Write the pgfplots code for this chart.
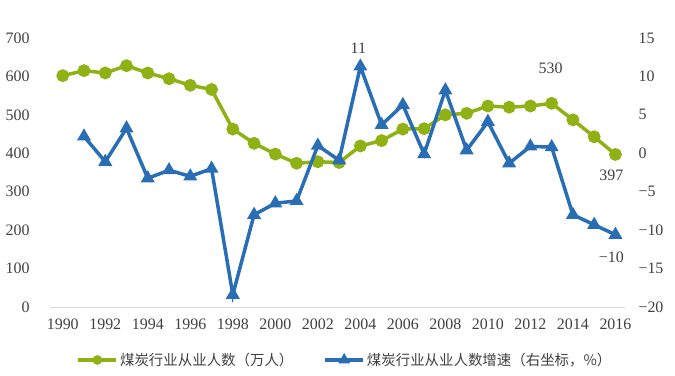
\documentclass[border=0pt]{standalone}
\usepackage{pgfplots}
\pgfplotsset{compat=1.18}
\usepackage{fontspec}
\setmainfont{Liberation Serif}
\newfontfamily\cjk{Noto Sans CJK SC}
\definecolor{cgreen}{RGB}{143,177,20}
\definecolor{cblue}{RGB}{41,110,180}
\definecolor{ctext}{RGB}{64,64,64}
\begin{document}
\begin{tikzpicture}
\path[use as bounding box] (-50bp,-69bp) rectangle (625bp,307bp);
\begin{axis}[
  scale only axis, width=575bp, height=269bp,
  xmin=1989.4, xmax=2016.45, ymin=0, ymax=700,
  axis y line*=left, axis x line*=bottom,
  y axis line style={draw=none},
  x axis line style={draw=black!15, line width=1pt},
  xtick={1990,1992,...,2016}, ytick={0,100,...,700},
  major tick length=0pt,
  tick label style={font=\fontsize{16}{16}\selectfont, text=ctext},
  /pgf/number format/assume math mode=true,
  /pgf/number format/1000 sep={},
  yticklabel style={xshift=-17bp},
  xticklabel style={yshift=-8bp},
  clip=false,
]
\addplot[cgreen, line width=3.5bp, mark=*, mark size=4.6bp] coordinates {
(1990,602) (1991,615) (1992,609) (1993,628) (1994,609) (1995,594) (1996,577)
(1997,566) (1998,463) (1999,426) (2000,398) (2001,374) (2002,378) (2003,376)
(2004,419) (2005,433) (2006,463) (2007,464) (2008,500) (2009,504) (2010,523)
(2011,520) (2012,523) (2013,530) (2014,487) (2015,443) (2016,397)};
\node[font=\fontsize{16}{16}\selectfont, text=ctext] at (axis cs:2013,530) [yshift=35bp, xshift=-1bp] {530};
\node[font=\fontsize{16}{16}\selectfont, text=ctext] at (axis cs:2016,397) [yshift=-21bp, xshift=-4bp] {397};
\end{axis}
\begin{axis}[
  scale only axis, width=575bp, height=269bp,
  xmin=1989.4, xmax=2016.45, ymin=-20, ymax=15,
  axis y line*=right, axis x line=none,
  y axis line style={draw=none},
  ytick={-20,-15,...,15},
  yticklabels={−20,−15,−10,−5,0,5,10,15},
  major tick length=0pt,
  tick label style={font=\fontsize{16}{16}\selectfont, text=ctext},
  yticklabel style={xshift=10bp},
  clip=false,
  legend style={at={(0.513,-0.197)}, anchor=center, draw=none, fill=none,
    legend columns=2, font=\cjk\fontsize{14.5}{15}\selectfont, text=ctext,
    /tikz/every even column/.append style={column sep=28bp},
    legend cell align=left},
  legend image code/.code={\draw[mark repeat=2,mark phase=2] plot coordinates {(0bp,0bp) (19bp,0bp) (38bp,0bp)};},
]
\addlegendimage{cgreen, line width=3.5bp, mark=*, mark size=3bp}
\addlegendentry{煤炭行业从业人数（万人）}
\addlegendimage{cblue, line width=3.5bp, mark=triangle*, mark size=3.5bp}
\addlegendentry{煤炭行业从业人数增速（右坐标，\%）}
\addplot[cblue, line width=3.5bp, mark=triangle*, mark size=4.6bp, forget plot] coordinates {
(1991,2.2) (1992,-1.1) (1993,3.25) (1994,-3.25) (1995,-2.2) (1996,-3.0) (1997,-2.0)
(1998,-18.4) (1999,-8.0) (2000,-6.5) (2001,-6.2) (2002,1.0) (2003,-0.9)
(2004,11.3) (2005,3.7) (2006,6.3) (2007,-0.1) (2008,8.2) (2009,0.4) (2010,4.1)
(2011,-1.3) (2012,0.9) (2013,0.8) (2014,-8.0) (2015,-9.3) (2016,-10.6)};
\node[font=\fontsize{16}{16}\selectfont, text=ctext] at (axis cs:2004,11.3) [yshift=18bp, xshift=-2bp] {11};
\node[font=\fontsize{16}{16}\selectfont, text=ctext] at (axis cs:2016,-10.6) [yshift=-23bp, xshift=-4bp] {−10};
\end{axis}
\end{tikzpicture}
\end{document}
